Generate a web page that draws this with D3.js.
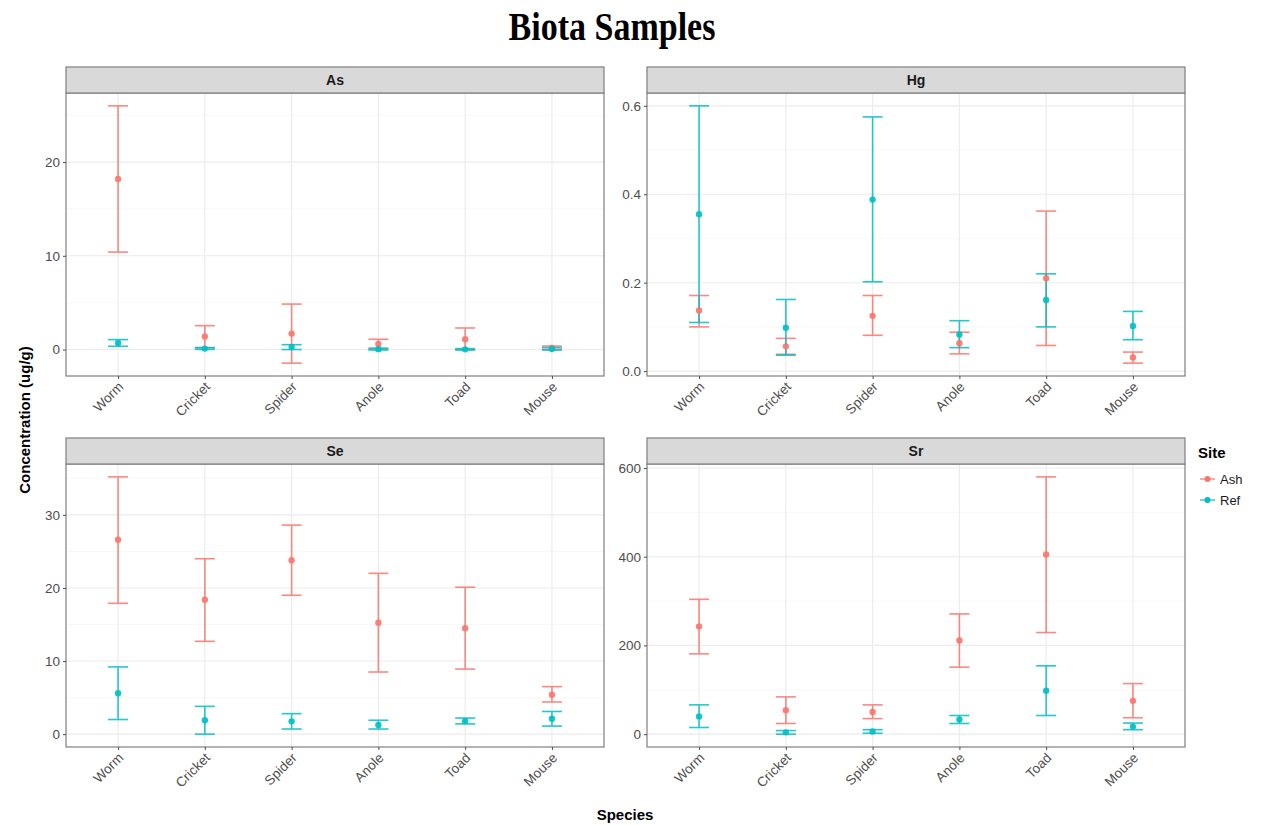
<!DOCTYPE html>
<html lang="en">
<head>
    <meta charset="UTF-8">
    <title>Biota Samples</title>
    <script src="https://d3js.org/d3.v7.min.js"></script>
    <style>
        body {
            margin: 0;
            background: white;
            font-family: 'Liberation Sans', Arial, sans-serif;
        }
        .tick text { fill: #4d4d4d; font-size: 13.5px; }
        .tick line { stroke: #4d4d4d; }
        .domain { display: none; }
        .grid-major { stroke: #ebebeb; stroke-width: 1.1; }
        .grid-minor { stroke: #f4f4f4; stroke-width: 0.6; }
    </style>
</head>
<body>
<div id="chart"></div>
<script>
    // species along the x axis
    const species = ["Worm", "Cricket", "Spider", "Anole", "Toad", "Mouse"];
    const sites = ["Ash", "Ref"];
    const siteColors = ["#F8766D", "#00BFC4"];

    // [lower, mean, upper] for each species
    const asAsh = [[10.4, 18.2, 26.0], [0.2, 1.4, 2.55], [-1.45, 1.7, 4.85], [0.05, 0.6, 1.1], [0.0, 1.1, 2.3], [0.0, 0.18, 0.37]];
    const asRef = [[0.35, 0.7, 1.06], [0.02, 0.1, 0.2], [0.0, 0.27, 0.52], [-0.05, 0.04, 0.15], [-0.05, 0.02, 0.1], [-0.05, 0.06, 0.2]];

    const hgAsh = [[0.10, 0.137, 0.171], [0.038, 0.056, 0.074], [0.081, 0.125, 0.171], [0.039, 0.063, 0.088], [0.058, 0.21, 0.362], [0.018, 0.031, 0.043]];
    const hgRef = [[0.11, 0.355, 0.6], [0.036, 0.098, 0.162], [0.202, 0.388, 0.575], [0.053, 0.083, 0.114], [0.10, 0.161, 0.22], [0.071, 0.102, 0.135]];

    const seAsh = [[17.9, 26.6, 35.2], [12.7, 18.4, 24.0], [19.0, 23.8, 28.6], [8.5, 15.25, 22.0], [8.9, 14.5, 20.1], [4.4, 5.4, 6.5]];
    const seRef = [[2.0, 5.6, 9.2], [0.0, 1.9, 3.8], [0.7, 1.75, 2.8], [0.7, 1.25, 1.9], [1.4, 1.8, 2.2], [1.1, 2.1, 3.1]];

    const srAsh = [[181, 243, 304], [24, 54, 84], [35, 50, 66], [151, 211, 271], [229, 405, 580], [37, 75, 114]];
    const srRef = [[15, 40, 66], [0, 4, 8], [2, 6, 10], [24, 33, 42], [42, 98, 154], [10, 17, 25]];

    // facet panels: name, data per site, y ticks
    const panels = [
        { name: "As", series: [asAsh, asRef], ticks: [0, 10, 20], minor: [-5, 5, 15, 25], fmt: d3.format("d") },
        { name: "Hg", series: [hgAsh, hgRef], ticks: [0, 0.2, 0.4, 0.6], minor: [0.1, 0.3, 0.5], fmt: d3.format(".1f") },
        { name: "Se", series: [seAsh, seRef], ticks: [0, 10, 20, 30], minor: [5, 15, 25, 35], fmt: d3.format("d") },
        { name: "Sr", series: [srAsh, srRef], ticks: [0, 200, 400, 600], minor: [100, 300, 500], fmt: d3.format("d") }
    ];

    const width = 1272, height = 825;
    const colX = [66, 647], panelW = 538;
    const rowY = [67, 438], stripH = 26, plotH = 283;

    const svg = d3.select("#chart").append("svg")
        .attr("width", width)
        .attr("height", height);

    // title (slightly condensed look of the original)
    svg.append("text")
        .attr("transform", "translate(612,40) scale(1,1.15)")
        .attr("text-anchor", "middle")
        .style("font-family", "'Liberation Serif', 'Times New Roman', serif")
        .style("font-weight", "bold")
        .style("font-size", "34px")
        .text("Biota Samples");

    const x = d3.scalePoint()
        .domain(species)
        .range([0, panelW])
        .padding(0.6);

    panels.forEach((p, i) => {
        const px = colX[i % 2];
        const py = rowY[Math.floor(i / 2)] + stripH;
        const g = svg.append("g").attr("transform", `translate(${px},${py})`);

        const all = p.series.flat().flat();
        const lo = d3.min(all), hi = d3.max(all);
        const pad = (hi - lo) * 0.05;
        const y = d3.scaleLinear().domain([lo - pad, hi + pad]).range([plotH, 0]);

        // grid
        g.selectAll(".grid-minor")
            .data(p.minor.filter(v => v > lo - pad && v < hi + pad))
            .enter().append("line")
            .attr("class", "grid-minor")
            .attr("x1", 0).attr("x2", panelW)
            .attr("y1", d => y(d)).attr("y2", d => y(d));
        g.selectAll(".grid-major-y")
            .data(p.ticks)
            .enter().append("line")
            .attr("class", "grid-major")
            .attr("x1", 0).attr("x2", panelW)
            .attr("y1", d => y(d)).attr("y2", d => y(d));
        g.selectAll(".grid-major-x")
            .data(species)
            .enter().append("line")
            .attr("class", "grid-major")
            .attr("x1", d => x(d)).attr("x2", d => x(d))
            .attr("y1", 0).attr("y2", plotH);

        // error bars and means
        p.series.forEach((vals, s) => {
            const col = siteColors[s];
            const bars = g.append("g").attr("opacity", 0.85);
            vals.forEach((v, k) => {
                const cx = x(species[k]);
                bars.append("line")
                    .attr("x1", cx).attr("x2", cx)
                    .attr("y1", y(v[0])).attr("y2", y(v[2]))
                    .attr("stroke", col).attr("stroke-width", 1.6);
                [v[0], v[2]].forEach(e => {
                    bars.append("line")
                        .attr("x1", cx - 10).attr("x2", cx + 10)
                        .attr("y1", y(e)).attr("y2", y(e))
                        .attr("stroke", col).attr("stroke-width", 1.6);
                });
            });
        });
        p.series.forEach((vals, s) => {
            g.append("g").selectAll("circle")
                .data(vals)
                .enter().append("circle")
                .attr("cx", (d, k) => x(species[k]))
                .attr("cy", d => y(d[1]))
                .attr("r", 3.2)
                .attr("fill", siteColors[s])
                .attr("opacity", 0.9);
        });

        // panel border
        g.append("rect")
            .attr("width", panelW).attr("height", plotH)
            .attr("fill", "none")
            .attr("stroke", "#7f7f7f")
            .attr("stroke-width", 1.2);

        // strip
        svg.append("rect")
            .attr("x", px).attr("y", py - stripH)
            .attr("width", panelW).attr("height", stripH)
            .attr("fill", "#d9d9d9")
            .attr("stroke", "#7f7f7f")
            .attr("stroke-width", 1.2);
        svg.append("text")
            .attr("x", px + panelW / 2)
            .attr("y", py - stripH / 2 + 5)
            .attr("text-anchor", "middle")
            .style("font-size", "14px")
            .style("font-weight", "bold")
            .style("fill", "#1a1a1a")
            .text(p.name);

        // axes
        g.append("g")
            .call(d3.axisLeft(y).tickValues(p.ticks).tickFormat(p.fmt).tickSize(3).tickPadding(3));
        g.append("g")
            .attr("transform", `translate(0,${plotH})`)
            .call(d3.axisBottom(x).tickSize(3).tickPadding(3))
            .selectAll("text")
            .attr("transform", "translate(-2,4) rotate(-45)")
            .attr("dy", "0.35em")
            .style("text-anchor", "end");
    });

    // axis titles
    svg.append("text")
        .attr("x", 625)
        .attr("y", 820)
        .attr("text-anchor", "middle")
        .style("font-size", "15px")
        .style("font-weight", "bold")
        .text("Species");
    svg.append("text")
        .attr("transform", "translate(30,420) rotate(-90)")
        .attr("text-anchor", "middle")
        .style("font-size", "15px")
        .style("font-weight", "bold")
        .text("Concentration (ug/g)");

    // legend
    const legend = svg.append("g").attr("transform", "translate(1198,0)");
    legend.append("text")
        .attr("x", 0).attr("y", 458)
        .style("font-size", "15px")
        .style("font-weight", "bold")
        .text("Site");
    sites.forEach((s, i) => {
        const ly = 479 + i * 21;
        legend.append("line")
            .attr("x1", 2).attr("x2", 17)
            .attr("y1", ly).attr("y2", ly)
            .attr("stroke", siteColors[i]).attr("stroke-width", 1.4).attr("opacity", 0.85);
        legend.append("circle")
            .attr("cx", 9.5).attr("cy", ly).attr("r", 3)
            .attr("fill", siteColors[i]);
        legend.append("text")
            .attr("x", 22).attr("y", ly + 5)
            .style("font-size", "13px")
            .style("fill", "#1a1a1a")
            .text(s);
    });
</script>
</body>
</html>
